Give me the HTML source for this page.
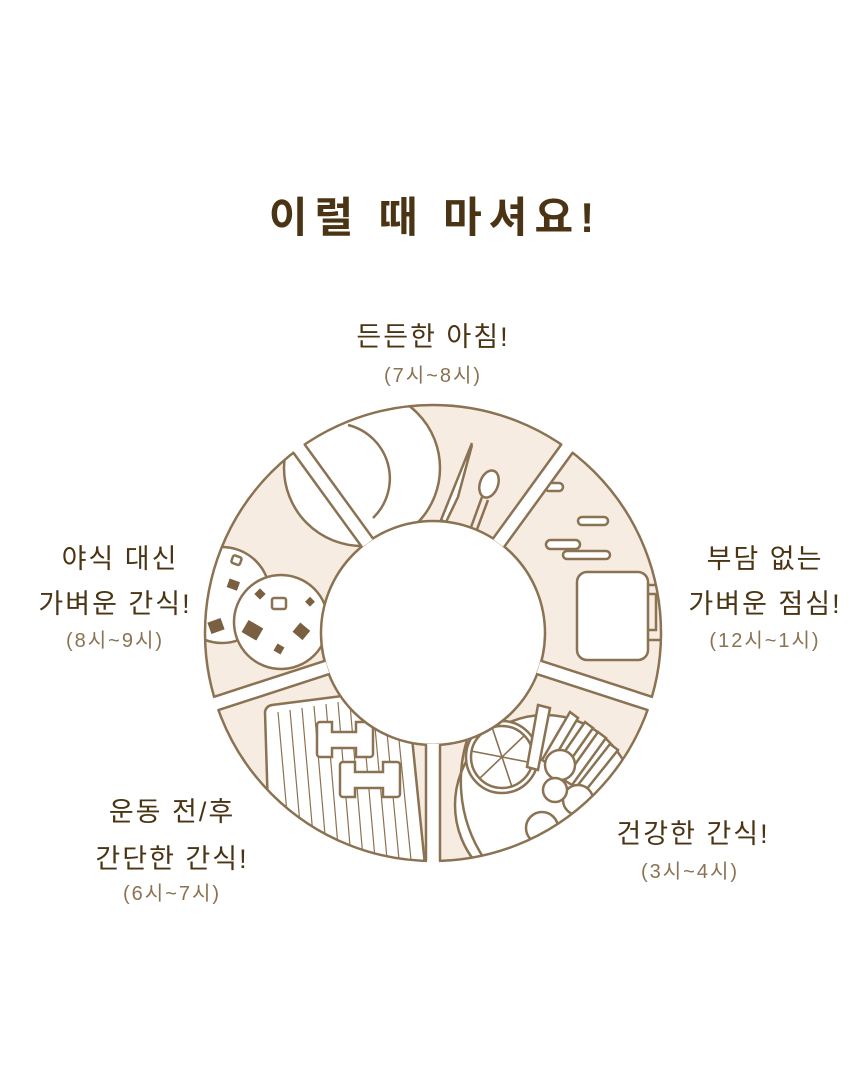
<!DOCTYPE html>
<html><head><meta charset="utf-8"><style>
html,body{margin:0;padding:0;background:#fff;}
body{width:860px;height:1085px;position:relative;overflow:hidden;font-family:"Liberation Sans","Noto Sans CJK KR",sans-serif;}
.t{position:absolute;text-align:center;white-space:nowrap;color:#4a3414;font-size:27px;letter-spacing:2px;}
.s{color:#8a7252;font-size:20px;letter-spacing:2px;}
</style></head><body>
<div class="t" style="left:0;width:870px;top:184px;font-size:42px;font-weight:bold;letter-spacing:7px;">이럴 때 마셔요!</div>
<div class="t" style="left:333px;width:200px;top:315px;">든든한 아침!</div>
<div class="t s" style="left:333px;width:200px;top:359px;">(7시~8시)</div>
<div class="t" style="left:665px;width:200px;top:537px;">부담 없는</div>
<div class="t" style="left:665px;width:200px;top:582px;">가벼운 점심!</div>
<div class="t s" style="left:665px;width:200px;top:624px;">(12시~1시)</div>
<div class="t" style="left:20px;width:200px;top:537px;">야식 대신</div>
<div class="t" style="left:15px;width:200px;top:582px;">가벼운 간식!</div>
<div class="t s" style="left:15px;width:200px;top:624px;">(8시~9시)</div>
<div class="t" style="left:72px;width:200px;top:790px;">운동 전/후</div>
<div class="t" style="left:72px;width:200px;top:837px;">간단한 간식!</div>
<div class="t s" style="left:72px;width:200px;top:877px;">(6시~7시)</div>
<div class="t" style="left:593px;width:200px;top:812px;">건강한 간식!</div>
<div class="t s" style="left:590px;width:200px;top:855px;">(3시~4시)</div>

<svg width="860" height="1085" style="position:absolute;left:0;top:0">
<defs>
<clipPath id="ann"><path d="M433,405a228,228 0 1,0 0.01,0zM433,521a112,112 0 1,1 -0.01,0z" clip-rule="evenodd" fill-rule="evenodd"/></clipPath>
</defs>
<g fill="none" stroke="#8a7252" stroke-width="2.5">
<circle cx="433" cy="633" r="228" fill="#f7ece2" stroke="none"/>
<g clip-path="url(#ann)">
 <!-- plate -->
 <circle cx="362" cy="468" r="78" fill="#fff"/>
 <path d="M348,425 A55,55 0 0 1 373,518" />
 <!-- knife -->
 <path d="M472,443 L441,520 L446,522 L458,497 L472,445" fill="#fff"/>
 <!-- spoon -->
 <ellipse cx="489" cy="484" rx="9" ry="14" transform="rotate(20 489 484)" fill="#fff"/>
 <path d="M482,497 L470,530 M488,500 L476,532"/>
 <!-- cookies -->
 <circle cx="222" cy="595" r="48" fill="#fff"/>
 <circle cx="281" cy="622" r="47" fill="#fff"/>
 <g fill="#7a6040" stroke="none">
  <rect x="228" y="580" width="11" height="9" transform="rotate(20 233 584)"/>
  <rect x="209" y="620" width="14" height="12" transform="rotate(-20 216 626)"/>
  <rect x="244" y="623" width="17" height="14" transform="rotate(30 252 630)"/>
  <rect x="295" y="625" width="13" height="12" transform="rotate(40 301 631)"/>
  <rect x="256" y="590" width="8" height="8" transform="rotate(45 260 594)"/>
  <rect x="307" y="598" width="7" height="7" transform="rotate(45 310 601)"/>
  <rect x="275" y="645" width="8" height="8" transform="rotate(30 279 649)"/>
 </g>
 <rect x="272" y="598" width="14" height="11" rx="2" fill="#fff"/>
 <rect x="232" y="556" width="9" height="8" rx="2" fill="#fff" transform="rotate(20 236 560)"/>
 <!-- mug -->
 <rect x="577" y="572" width="71" height="88" rx="10" fill="#fff"/>
 <path d="M648,585 L665,585 L665,640 L648,640"/>
 <path d="M648,594 L656,594 L656,630 L648,630"/>
 <rect x="578" y="517" width="30" height="8" rx="4" fill="#fff"/>
 <rect x="546" y="540" width="34" height="9" rx="4.5" fill="#fff"/>
 <rect x="563" y="551" width="47" height="8" rx="4" fill="#fff"/>
 <rect x="545" y="483" width="18" height="8" rx="4" fill="#fff"/>
 <!-- fruit bowl -->
 <circle cx="545" cy="805" r="90" fill="#fff"/>
 <path d="M475,720 A140,140 0 0 0 485,860" />
 <circle cx="502" cy="757" r="36" fill="#fff"/>
 <circle cx="502" cy="757" r="31"/>
 <path d="M471,751 L533,763 M492,727 L512,787 M525,735 L479,779" stroke-width="1.6"/>
 <path d="M538,705 L550,708 L538,770 L527,767Z" fill="#fff"/>
 <path d="M570,712 L578,718 L550,765 L542,760Z M585,722 L593,728 L560,775 L552,770Z M598,732 L606,738 L572,785 L564,780Z M610,744 L618,750 L582,795 L574,790Z" fill="#fff"/>
 <circle cx="560" cy="765" r="15" fill="#fff"/>
 <circle cx="578" cy="800" r="15" fill="#fff"/>
 <circle cx="555" cy="790" r="12" fill="#fff"/>
 <circle cx="542" cy="828" r="16" fill="#fff"/>
 <!-- mat -->
 <path d="M265,712 Q266,706 272,705 L342,696 L412,738 L426,875 L270,875Z" fill="#fff"/>
 <g stroke-width="1.2">
  <path d="M278,712 L292,870 M290,710 L304,870 M302,708 L316,870 M314,706 L328,870 M326,704 L340,870 M338,702 L352,870 M350,704 L364,870 M362,710 L376,870 M374,716 L388,870 M386,722 L400,870 M398,730 L412,870"/>
 </g>
 <path d="M320,722 h12 v10 h24 v-10 h14 a3,3 0 0 1 3,3 v29 a3,3 0 0 1 -3,3 h-14 v-9 h-24 v9 h-12 a3,3 0 0 1 -3,-3 v-29 a3,3 0 0 1 3,-3z" fill="#fff"/>
 <path d="M343,762 h12 v10 h28 v-10 h14 a3,3 0 0 1 3,3 v29 a3,3 0 0 1 -3,3 h-14 v-9 h-28 v9 h-12 a3,3 0 0 1 -3,-3 v-29 a3,3 0 0 1 3,-3z" fill="#fff"/>
</g>
<circle cx="433" cy="633" r="228"/>
<circle cx="433" cy="633" r="112" fill="#fff"/>
<g transform="translate(433 633)">
 <g transform="rotate(36)"><rect x="-6" y="-232" width="12" height="121" fill="#fff" stroke="none"/><path d="M-7,-227.9V-111.8M7,-227.9V-111.8"/></g>
 <g transform="rotate(108)"><rect x="-6" y="-232" width="12" height="121" fill="#fff" stroke="none"/><path d="M-7,-227.9V-111.8M7,-227.9V-111.8"/></g>
 <g transform="rotate(180)"><rect x="-6" y="-232" width="12" height="121" fill="#fff" stroke="none"/><path d="M-7,-227.9V-111.8M7,-227.9V-111.8"/></g>
 <g transform="rotate(252)"><rect x="-6" y="-232" width="12" height="121" fill="#fff" stroke="none"/><path d="M-7,-227.9V-111.8M7,-227.9V-111.8"/></g>
 <g transform="rotate(324)"><rect x="-6" y="-232" width="12" height="121" fill="#fff" stroke="none"/><path d="M-7,-227.9V-111.8M7,-227.9V-111.8"/></g>
</g>
</g>
</svg>
</body></html>
